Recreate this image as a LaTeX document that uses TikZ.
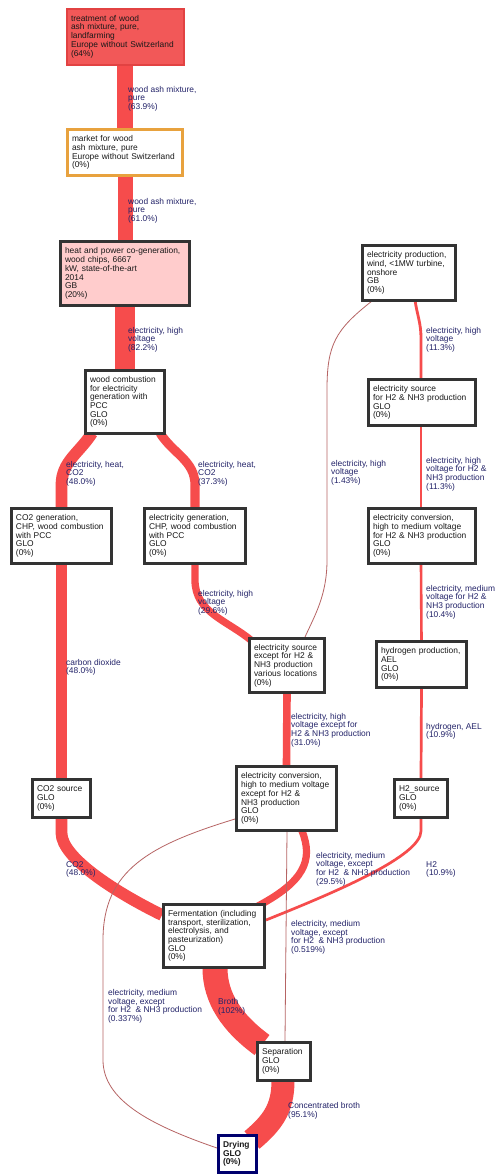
\documentclass[tikz,border=0pt]{standalone}
\usepackage{fontspec}
\setmainfont{Liberation Sans}
\usetikzlibrary{calc}

\pgfdeclarelayer{paper}
\pgfdeclarelayer{flows}
\pgfsetlayers{paper,flows,main}

\definecolor{flowred}{RGB}{246,76,76}
\definecolor{thinred}{RGB}{182,100,100}
\definecolor{boxline}{RGB}{51,51,51}
\definecolor{labelblue}{RGB}{35,35,105}
\definecolor{hotfill}{RGB}{242,88,88}
\definecolor{hotline}{RGB}{226,66,66}
\definecolor{pinkfill}{RGB}{255,204,204}
\definecolor{marketline}{RGB}{232,162,62}
\definecolor{navyline}{RGB}{0,0,110}

\newcommand{\dgfont}{\fontsize{8.4}{8.7}\selectfont}

\tikzset{
  % process box: #1 = outer width, #2 = outer height (px)
  proc/.code 2 args={%
    \pgfmathsetmacro\procw{#1-3}%
    \pgfmathsetmacro\proch{#2-3}%
    \pgfmathsetmacro\proct{#1-12}%
    \edef\procopts{minimum width=\procw pt,minimum height=\proch pt,text width=\proct pt}%
    \expandafter\tikzset\expandafter{\procopts}%
  },
  box/.style={draw=boxline, line width=3pt, fill=white, rectangle,
    inner xsep=4.5pt, inner ysep=1pt, align=left, font=\dgfont, text=black!90},
  lab/.style={anchor=north west, inner sep=0pt, align=left, font=\dgfont,
    text=labelblue},
  flow/.style={draw=flowred, line width=#1pt},
  trace/.style={draw=thinred, line width=0.8pt},
}

\begin{document}
\begin{tikzpicture}[x=1pt,y=1pt]
\useasboundingbox (0,0) rectangle (497,-1176);
\begin{pgfonlayer}{paper}
  \fill[white] (0,0) rectangle (497,-1176);
\end{pgfonlayer}

% ---------- process boxes ----------
\node[box, proc={120}{59}, fill=hotfill, draw=hotline, line width=2pt] (treat) at (125,-36.5)
  {treatment of wood\\ash mixture, pure,\\landfarming\\Europe without Switzerland\\(64\%)};
\node[box, proc={118}{49}, draw=marketline, line width=2.5pt] (market) at (125,-152.5)
  {market for wood\\ash mixture, pure\\Europe without Switzerland\\(0\%)};
\node[box, proc={132}{67}, fill=pinkfill] (chp) at (125,-273.5)
  {heat and power co-generation,\\wood chips, 6667\\kW, state-of-the-art\\2014\\GB\\(20\%)};
\node[box, proc={82}{66}] (woodc) at (125,-402)
  {wood combustion\\for electricity\\generation with\\PCC\\GLO\\(0\%)};
\node[box, proc={96}{58}] (wind) at (409,-273)
  {electricity production,\\wind, <1MW turbine,\\onshore\\GB\\(0\%)};
\node[box, proc={110}{49}] (esH2) at (422,-402.5)
  {electricity source\\for H2 \& NH3 production\\GLO\\(0\%)};
\node[box, proc={103}{58}] (co2gen) at (61.5,-536)
  {CO2 generation,\\CHP, wood combustion\\with PCC\\GLO\\(0\%)};
\node[box, proc={104}{58}] (elgen) at (195,-536)
  {electricity generation,\\CHP, wood combustion\\with PCC\\GLO\\(0\%)};
\node[box, proc={110}{58}] (ecH2) at (422,-536)
  {electricity conversion,\\high to medium voltage\\for H2 \& NH3 production\\GLO\\(0\%)};
\node[box, proc={93}{49}] (h2prod) at (421.5,-664.5)
  {hydrogen production,\\AEL\\GLO\\(0\%)};
\node[box, proc={78}{57}] (esX) at (287,-665.5)
  {electricity source\\except for H2 \&\\NH3 production\\various locations\\(0\%)};
\node[box, proc={61}{41}] (co2src) at (61.5,-798.5)
  {CO2 source\\GLO\\(0\%)};
\node[box, proc={103}{67}] (ecX) at (286.5,-798.5)
  {electricity conversion,\\high to medium voltage\\except for H2 \&\\NH3 production\\GLO\\(0\%)};
\node[box, proc={56}{41}] (h2src) at (421,-798.5)
  {H2\_source\\GLO\\(0\%)};
\node[box, proc={104}{66}] (ferm) at (214,-936)
  {Fermentation (including\\transport, sterilization,\\electrolysis, and\\pasteurization)\\GLO\\(0\%)};
\node[box, proc={56}{41}] (sep) at (284,-1061.5)
  {Separation\\GLO\\(0\%)};
\node[box, proc={41}{40}, draw=navyline, font=\dgfont\bfseries] (dry) at (237.5,-1154)
  {Drying\\GLO\\(0\%)};

% ---------- flows ----------
\begin{pgfonlayer}{flows}
  \draw[flow=15.7] (treat.south) -- (market.north);
  \draw[flow=15] (market.south) -- (chp.north);
  \draw[flow=20] (chp.south) -- (woodc.north);
  \draw[flow=11.8] ($(woodc.south)+(-33,2)$) to[out=-122,in=90] ($(co2gen.north)+(0,22)$) -- (co2gen.north);
  \draw[flow=9.1] ($(woodc.south)+(35,2)$) to[out=-58,in=90] ($(elgen.north)+(0,22)$) -- (elgen.north);
  \draw[flow=11.8] (co2gen.south) -- (co2src.north);
  \draw[flow=7.3] (elgen.south) -- ++(0,-15) to[out=-90,in=140] ($(esX.north west)+(4,-4)$);
  \draw[flow=7.6] (esX.south) -- (ecX.north);
  \draw[flow=2.8] ($(wind.south)+(6,2)$) to[out=-82,in=90] ($(esH2.north)+(-1,40)$) -- ($(esH2.north)+(-1,0)$);
  \draw[flow=2.8] ($(esH2.south)+(-1,0)$) -- ($(ecH2.north)+(-1,0)$);
  \draw[flow=2.6] ($(ecH2.south)+(-1,0)$) -- (h2prod.north);
  \draw[flow=2.7] (h2prod.south) -- (h2src.north);
  \draw[flow=2.7] (h2src.south) -- ++(0,-12) .. controls +(0,-25) and +(70,28) .. ($(ferm.north east)+(0,-17)$);
  \draw[flow=11.8] (co2src.south) -- ++(0,-14) .. controls +(0,-25) and +(-45,22) .. ($(ferm.west)+(0,21)$);
  \draw[flow=7.2] ($(ecX.south)+(15.5,1)$) .. controls +(12,-30) and +(45,24) .. ($(ferm.north east)+(-8,-3)$);
  \draw[flow=25] ($(ferm.south)+(1,1)$) .. controls +(0,-30) and +(-30,22) .. ($(sep.north west)+(6,-4)$);
  \draw[flow=23] ($(sep.south)+(-1,1)$) .. controls +(0,-28) and +(20,17) .. ($(dry.north east)+(-6,-6)$);
  % minor supplies
  \draw[trace] ($(wind.south west)+(11,1)$) .. controls (335,-330) and (327,-345) .. (327,-390)
    -- (327,-560) .. controls (327,-595) and (315,-615) .. ($(esX.north east)+(-21,0)$);
  \draw[trace] ($(ecX.west)+(0,-20.5)$) .. controls (150,-845) and (103,-870) .. (103,-940)
    -- (103,-1060) .. controls (103,-1100) and (150,-1125) .. ($(dry.west)+(0,6)$);
  \draw[trace] ($(ecX.south)+(0.5,0)$) -- ($(sep.north)+(1,0)$);
\end{pgfonlayer}

% ---------- flow labels ----------
\node[lab] (l1) at (128,-86) {wood ash mixture,\\pure\\(63.9\%)};
\node[lab] (l2) at (128,-198) {wood ash mixture,\\pure\\(61.0\%)};
\node[lab] (l3) at (128,-327) {electricity, high\\voltage\\(82.2\%)};
\node[lab] (l4) at (66,-461) {electricity, heat,\\CO2\\(48.0\%)};
\node[lab] (l5) at (198,-461) {electricity, heat,\\CO2\\(37.3\%)};
\node[lab] (l6) at (426,-327) {electricity, high\\voltage\\(11.3\%)};
\node[lab] (l7) at (331,-460) {electricity, high\\voltage\\(1.43\%)};
\node[lab] (l8) at (426,-457) {electricity, high\\voltage for H2 \&\\NH3 production\\(11.3\%)};
\node[lab] (l9) at (198,-590) {electricity, high\\voltage\\(29.6\%)};
\node[lab] (l10) at (426,-585) {electricity, medium\\voltage for H2 \&\\NH3 production\\(10.4\%)};
\node[lab] (l11) at (66,-659) {carbon dioxide\\(48.0\%)};
\node[lab] (l12) at (291,-713) {electricity, high\\voltage except for\\H2 \& NH3 production\\(31.0\%)};
\node[lab] (l13) at (426,-723) {hydrogen, AEL\\(10.9\%)};
\node[lab] (l14) at (316,-852) {electricity, medium\\voltage, except\\for H2~ \& NH3 production\\(29.5\%)};
\node[lab] (l15) at (426,-861) {H2\\(10.9\%)};
\node[lab] (l16) at (66,-861) {CO2\\(48.0\%)};
\node[lab] (l17) at (291,-920) {electricity, medium\\voltage, except\\for H2~ \& NH3 production\\(0.519\%)};
\node[lab] (l18) at (108,-989) {electricity, medium\\voltage, except\\for H2~ \& NH3 production\\(0.337\%)};
\node[lab] (l19) at (218,-998) {Broth\\(102\%)};
\node[lab] (l20) at (288,-1102) {Concentrated broth\\(95.1\%)};
\end{tikzpicture}
\end{document}
